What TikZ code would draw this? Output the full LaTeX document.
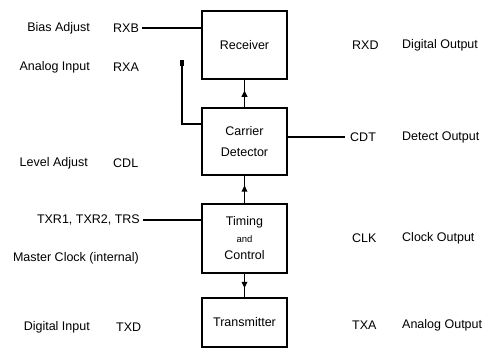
\documentclass[tikz,border=0pt]{standalone}
\usepackage{fontspec}
\setmainfont{Liberation Sans}
\usetikzlibrary{arrows.meta,decorations.markings,calc}
\begin{document}
\begin{tikzpicture}[x=1pt,y=-1pt,
  blk/.style={draw=black,line width=2pt,minimum width=85pt,align=center,inner sep=0pt,
    font=\fontsize{12.5}{17}\selectfont},
  lbl/.style={inner sep=0pt,font=\fontsize{12.5}{15}\selectfont,text=black},
  wire/.style={line width=1.7pt},
  midarrow/.style={wire,decoration={markings,mark=at position #1 with {\arrow{Triangle[length=6.5pt,width=5.5pt]}}},postaction={decorate}}
]
\useasboundingbox (0,0) rectangle (487,349);
% blocks
\node[blk,minimum height=68pt] (rx) at (244.5,45) {Receiver};
\node[blk,minimum height=67pt] (cd) at (244.5,141.5) {Carrier\\[4pt]Detector};
\node[blk,minimum height=69pt] (tc) at (244.5,238.5) {Timing\\{\fontsize{9.5}{10}\selectfont and}\\Control};
\node[blk,minimum height=49pt] (tr) at (244.5,322.5) {Transmitter};
% left labels
\node[lbl,anchor=east] (d1) at (90,28) {Bias Adjust};
\node[lbl,anchor=west] (rxb) at (113,28) {RXB};
\node[lbl,anchor=east] (d2) at (90,67) {Analog Input};
\node[lbl,anchor=west] (rxa) at (113,67) {RXA};
\node[lbl,anchor=east] (d3) at (88,163) {Level Adjust};
\node[lbl,anchor=west] (cdl) at (113,163) {CDL};
\node[lbl,anchor=east] (txr) at (140,220) {TXR1, TXR2, TRS};
\node[lbl,anchor=east] (mc) at (139,258) {Master Clock (internal)};
\node[lbl,anchor=east] (d4) at (90,327) {Digital Input};
\node[lbl,anchor=west] (txd) at (116,327) {TXD};
% right labels
\node[lbl,anchor=west] (rxd) at (352,45) {RXD};
\node[lbl,anchor=west] (o1) at (402,45) {Digital Output};
\node[lbl,anchor=west] (cdt) at (350,137) {CDT};
\node[lbl,anchor=west] (o2) at (402,137) {Detect Output};
\node[lbl,anchor=west] (clk) at (352,238) {CLK};
\node[lbl,anchor=west] (o3) at (402,238) {Clock Output};
\node[lbl,anchor=west] (txa) at (352,325) {TXA};
\node[lbl,anchor=west] (o4) at (402,325) {Analog Output};
% connectors
\draw[wire] ([xshift=3pt]rxb.east) -- (rxb.east -| rx.west);
\draw[wire] ([xshift=3pt]txr.east) -- (txr.east -| tc.west);
\draw[wire] (cdt.west -| cd.east) -- ([xshift=-5pt]cdt.west);
\draw[midarrow=0.62] (cd.north) -- (rx.south);
\draw[midarrow=0.66] (tc.north) -- (cd.south);
\draw[midarrow=0.62] (tc.south) -- (tr.north);
\coordinate (fb) at (182,63);
\draw[wire] ($(cd.north west)+(0,17)$) -| (fb);
\node[fill=black,inner sep=0pt,minimum width=4.5pt,minimum height=6pt] (sq) at (fb) {};
\end{tikzpicture}
\end{document}
